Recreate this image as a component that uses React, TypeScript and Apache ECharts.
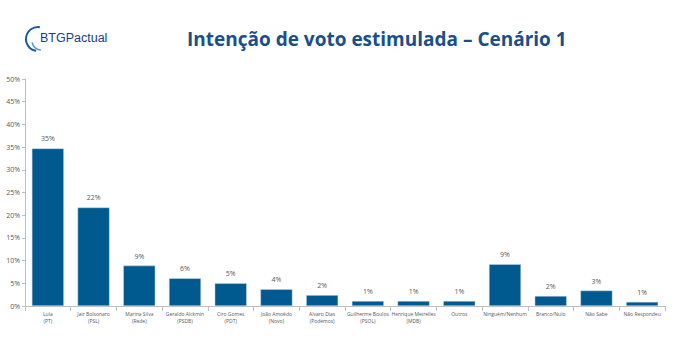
import React, { useEffect, useRef } from "react";
import * as echarts from "echarts";

const categories = [
  "Lula\n(PT)",
  "Jair Bolsonaro\n(PSL)",
  "Marina Silva\n(Rede)",
  "Geraldo Alckmin\n(PSDB)",
  "Ciro Gomes\n(PDT)",
  "João Amoêdo\n(Novo)",
  "Alvaro Dias\n(Podemos)",
  "Guilherme Boulos\n(PSOL)",
  "Henrique Meirelles\n(MDB)",
  "Outros",
  "Ninguém/Nenhum",
  "Branco/Nulo",
  "Não Sabe",
  "Não Respondeu",
];
const values = [34.7, 21.7, 8.9, 6.1, 5.0, 3.7, 2.4, 1.1, 1.1, 1.1, 9.2, 2.2, 3.4, 0.9];
const tickMax = 50;
const tickStep = 5;
const title = "Intenção de voto estimulada – Cenário 1";

export default function App() {
  const ref = useRef<HTMLDivElement>(null);
  useEffect(() => {
    if (!ref.current) return;
    const chart = echarts.init(ref.current, null, { renderer: "svg" });
    chart.setOption({
      animation: false,
      backgroundColor: "#ffffff",
      graphic: [
        {
          type: "text",
          left: 187,
          top: 29,
          style: {
            text: title,
            font: "bold 19px 'Open Sans', Calibri, sans-serif",
            fill: "#1a4f8b",
          },
        },
        {
          type: "arc",
          shape: { cx: 38, cy: 39, r: 12, startAngle: Math.PI * 0.55, endAngle: Math.PI * 1.55 },
          style: { stroke: "#1a5aa6", lineWidth: 2, fill: "none" },
        },
        {
          type: "arc",
          shape: { cx: 41, cy: 41, r: 9, startAngle: Math.PI * 0.5, endAngle: Math.PI * 0.95 },
          style: { stroke: "#5a9bd6", lineWidth: 1.5, fill: "none" },
        },
        {
          type: "text",
          left: 40,
          top: 31,
          style: {
            text: "BTGPactual",
            font: "12.5px 'Liberation Sans Narrow', 'Liberation Sans', Arial, sans-serif",
            fill: "#1a3c8c",
          },
        },
      ],
      grid: { left: 25, right: 15, top: 79, bottom: 43, containLabel: false },
      xAxis: {
        type: "category",
        data: categories,
        axisLine: { lineStyle: { color: "#bfbfbf" } },
        axisTick: { show: true, lineStyle: { color: "#bfbfbf" } },
        axisLabel: {
          interval: 0,
          fontSize: 5,
          lineHeight: 7,
          color: "#595959",
          fontFamily: "'Open Sans', Calibri, sans-serif",
          margin: 4,
        },
      },
      yAxis: {
        type: "value",
        min: 0,
        max: tickMax,
        interval: tickStep,
        axisLine: { show: true, lineStyle: { color: "#bfbfbf" } },
        axisTick: { show: true, length: 3, lineStyle: { color: "#bfbfbf" } },
        splitLine: { show: false },
        axisLabel: {
          formatter: (v: number) => v + "%",
          fontSize: 7,
          color: "#595959",
          fontFamily: "'Open Sans', Calibri, sans-serif",
          margin: 5,
        },
      },
      series: [
        {
          type: "bar",
          data: values,
          barWidth: 32,
          itemStyle: { color: "#00598f", borderColor: "#c9d8e6", borderWidth: 0.5 },
          label: {
            show: true,
            position: "top",
            distance: 6,
            formatter: (p: any) => Math.round(p.value) + "%",
            fontSize: 7,
            color: "#595959",
            fontFamily: "'Open Sans', Calibri, sans-serif",
          },
        },
      ],
    });
    return () => chart.dispose();
  }, []);
  return <div ref={ref} style={{ width: 680, height: 349, position: "absolute", left: 0, top: 0 }} />;
}
